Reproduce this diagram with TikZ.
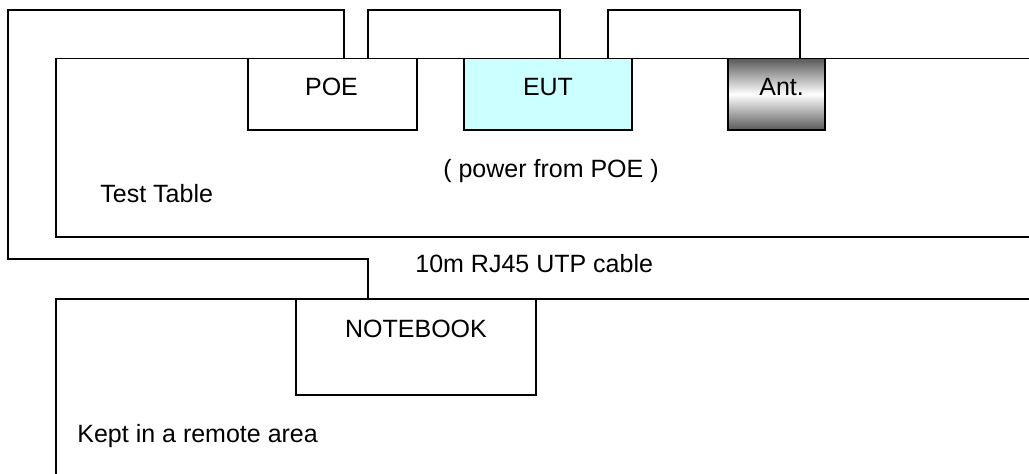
\documentclass[tikz,border=0pt]{standalone}
\usepackage{fontspec}
\setmainfont{Liberation Sans}
\definecolor{euticyan}{HTML}{CCFFFF}
\tikzset{
  line/.style={line width=0.7pt, draw=black},
  boxnode/.style={line, rectangle, inner sep=0pt, fill=white},
  lbl/.style={inner sep=0pt, font=\fontsize{12.5}{15}\selectfont, anchor=base},
  lblw/.style={lbl, anchor=base west},
}
\begin{document}
\begin{tikzpicture}[x=0.5pt,y=-0.5pt]
\useasboundingbox (0,0) rectangle (1029,473);
\clip (0,0) rectangle (1029,473);
\fill[white] (0,0) rectangle (1029,473);
% areas
\draw[line] (56,58.5) rectangle (1040,237);
\draw[line] (56,299) rectangle (1040,490);
% equipment boxes
\node[boxnode, minimum width=84.5pt, minimum height=35.75pt] (POE) at (332.5,94.25) {};
\node[boxnode, fill=euticyan, minimum width=84pt, minimum height=35.75pt] (EUT) at (548,94.25) {};
\node[line, rectangle, inner sep=0pt, minimum width=48.5pt, minimum height=35.75pt,
      top color=black!65, bottom color=black!65, middle color=white] (ANT) at (776.5,94.25) {};
\node[boxnode, minimum width=120pt, minimum height=48pt] (NB) at (416,347) {};
% cables
\draw[line] ([xshift=5.75pt]POE.north) -- ++(0,-48) -| (8,259) -| ([xshift=-24pt]NB.north);
\draw[line] ([xshift=17.75pt]POE.north) -- ++(0,-48) -| ([xshift=6pt]EUT.north);
\draw[line] ([xshift=30pt]EUT.north) -- ++(0,-48) -| ([xshift=11.75pt]ANT.north);
% labels
\node[lbl] (tPOE) at (331.5,95) {POE};
\node[lbl] (tEUT) at (548,95) {EUT};
\node[lblw] (tANT) at (759,95) {Ant.};
\node[lbl] (tNB) at (416,337) {NOTEBOOK};
\node[lbl] (tpow) at (551,177) {( power from POE )};
\node[lblw] (ttable) at (100,202) {Test Table};
\node[lblw] (tcable) at (415,272) {10m RJ45 UTP cable};
\node[lblw] (tkept) at (77,442) {Kept in a remote area};
\end{tikzpicture}
\end{document}
